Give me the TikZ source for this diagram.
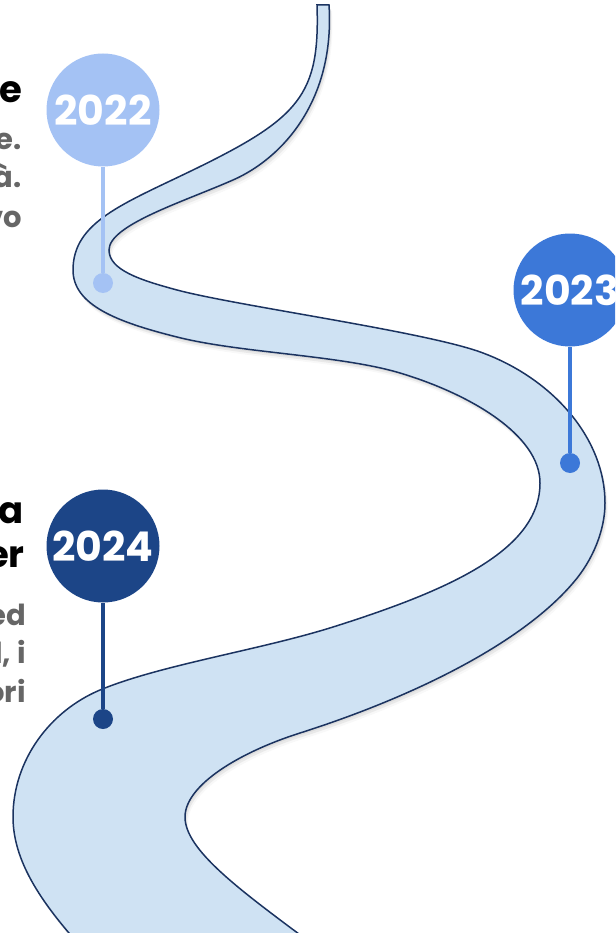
\documentclass[tikz,border=0pt]{standalone}
\usepackage{fontspec}
\setmainfont{Poppins}
\usetikzlibrary{shadows}
\definecolor{roadfill}{HTML}{CFE2F3}
\definecolor{roadline}{HTML}{1B3360}
\definecolor{c2022}{HTML}{A4C2F4}
\definecolor{c2023}{HTML}{3C78D8}
\definecolor{c2024}{HTML}{1C4587}
\definecolor{greytext}{HTML}{666666}

\begin{document}
\begin{tikzpicture}[x=1pt,y=-1pt,
    yearball/.style={circle,minimum size=113pt,inner sep=0pt,text=white,font=\bfseries\fontsize{41}{41}\selectfont},
    pindot/.style={circle,minimum size=20pt,inner sep=0pt},
    pinline/.style={line width=4pt},
    titletext/.style={anchor=base east,inner sep=0pt,font=\bfseries\fontsize{37}{37}\selectfont},
    desctext/.style={anchor=base east,inner sep=0pt,text=greytext,font=\bfseries\fontsize{29}{29}\selectfont}]
    \useasboundingbox (0,0) rectangle (615,933);
    \clip (0,0) rectangle (615,933);
    %道路
    \draw[fill=roadfill,draw=roadline,line width=1.5pt,
        drop shadow={opacity=0.12,shadow xshift=1pt,shadow yshift=-2pt},
        drop shadow={opacity=0.12,shadow xshift=2pt,shadow yshift=-4pt},
        drop shadow={opacity=0.06,shadow xshift=3pt,shadow yshift=-6pt}]
        (317,5) .. controls (320,95) and (300,118) .. (193,170)
        .. controls (123,204) and (73,222) .. (73,270)
        .. controls (73,305) and (117,322) .. (177,337)
        .. controls (240,353) and (340,355) .. (400,373)
        .. controls (470,394) and (540,435) .. (540,483)
        .. controls (540,550) and (450,590) .. (333,627)
        .. controls (260,650) and (160,665) .. (100,690)
        .. controls (50,711) and (13,760) .. (13,817)
        .. controls (13,860) and (40,900) .. (75,940)
        -- (307,940)
        .. controls (240,890) and (185,850) .. (185,817)
        .. controls (185,785) and (240,752) .. (300,733)
        .. controls (410,698) and (520,645) .. (573,583)
        .. controls (593,560) and (605,530) .. (605,503)
        .. controls (605,440) and (555,380) .. (483,353)
        .. controls (428,332) and (237,306) .. (177,290)
        .. controls (140,280) and (109,270) .. (109,250)
        .. controls (109,225) and (183,202) .. (233,180)
        .. controls (283,158) and (335,100) .. (329,5)
        -- cycle;
    %年份
    \node[yearball,fill=c2022] (y2022) at (103,110) {2022};
    \node[yearball,fill=c2023] (y2023) at (570,290) {2023};
    \node[yearball,fill=c2024] (y2024) at (103,546) {2024};
    %标记点
    \node[pindot,fill=c2022] (d2022) at (103,283) {};
    \node[pindot,fill=c2023] (d2023) at (570,463) {};
    \node[pindot,fill=c2024] (d2024) at (103,719) {};
    \draw[pinline,c2022] (y2022) -- (d2022);
    \draw[pinline,c2023] (y2023) -- (d2023);
    \draw[pinline,c2024] (y2024) -- (d2024);
    %文字
    \node[titletext] (t2022) at (22,103) {e};
    \node[desctext] (a2022) at (22,150) {e.};
    \node[desctext] (b2022) at (22,188) {à.};
    \node[desctext] (c2022) at (22,227) {vo};
    \node[titletext] (t2024) at (24,523) {a};
    \node[titletext] (u2024) at (25,567) {er};
    \node[desctext] (a2024) at (26,625) {ed};
    \node[desctext] (b2024) at (26,663) {l, i};
    \node[desctext] (c2024) at (26,702) {ori};
\end{tikzpicture}
\end{document}
